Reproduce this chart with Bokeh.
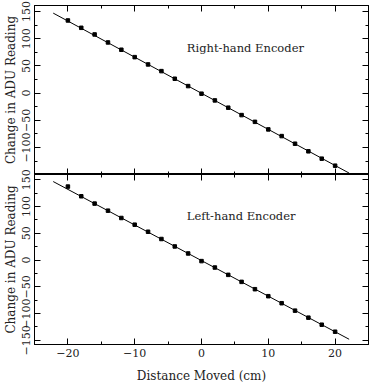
from bokeh.plotting import figure
from bokeh.layouts import column
from bokeh.models import (LinearAxis, SingleIntervalTicker, Range1d, Label,
                          CustomLabelingPolicy)
from bokeh.embed import file_html
from bokeh.resources import INLINE

# ---- data ----
distance = [-20, -18, -16, -14, -12, -10, -8, -6, -4, -2, 0,
            2, 4, 6, 8, 10, 12, 14, 16, 18, 20]
right_change = [133.5, 120.0, 107.8, 93.1, 79.7, 66.1, 52.7, 40.4, 26.4, 12.9, -1.1,
                -13.4, -26.8, -40.4, -52.8, -66.7, -79.0, -93.0, -107.0, -120.5, -133.4]
left_change = [137.4, 119.3, 105.6, 92.4, 78.7, 66.2, 53.0, 39.4, 25.5, 12.4, -1.9,
               -13.9, -27.6, -40.7, -54.4, -67.5, -80.6, -94.5, -107.6, -120.8, -133.9]
fit_x = [-22.2, 22.1]
right_fit_y = [147.0, -147.0]
left_fit_y = [146.8, -148.0]
right_title = "Right-hand Encoder"
left_title = "Left-hand Encoder"
x_label = "Distance Moved (cm)"
y_label = "Change in ADU Reading"

FONT = "DejaVu Serif"
OVERLAP = 12  # px the lower panel's canvas reaches up under the upper one

HIDE_ALL = CustomLabelingPolicy(
    code="for (let i = 0; i < indices.size; i++) { indices.unset(i) }\nreturn indices")


def make_axis(ticker_interval, show_labels, label=None, vertical=False):
    ax = LinearAxis(ticker=SingleIntervalTicker(interval=ticker_interval, num_minor_ticks=2))
    ax.major_tick_in = 6
    ax.major_tick_out = 0
    ax.minor_tick_in = 3
    ax.minor_tick_out = 0
    ax.axis_line_color = "black"
    ax.major_tick_line_color = "black"
    ax.minor_tick_line_color = "black"
    ax.major_label_text_font = FONT
    ax.major_label_text_color = "#222222"
    if show_labels:
        ax.major_label_text_font_size = "11px"
        ax.major_label_standoff = 4
    else:
        ax.major_label_text_font_size = "0px"
        ax.major_label_standoff = 0
        ax.major_label_policy = HIDE_ALL
    if vertical:
        ax.major_label_orientation = "vertical"
    if label:
        ax.axis_label = label
        ax.axis_label_text_font = FONT
        ax.axis_label_text_font_size = "12px"
        ax.axis_label_text_font_style = "normal"
        ax.axis_label_text_color = "#222222"
        ax.axis_label_standoff = 2
    return ax


def make_panel(height, ylo, yhi, ys, fit_y, title, bottom, top_border, bottom_border):
    p = figure(width=372, height=height,
               x_range=Range1d(-25, 25), y_range=Range1d(ylo, yhi),
               x_axis_type=None, y_axis_type=None,
               output_backend="svg", toolbar_location=None,
               min_border_left=30, min_border_right=4,
               min_border_top=top_border, min_border_bottom=bottom_border)
    p.outline_line_color = "black"
    p.background_fill_color = "white"
    p.add_layout(make_axis(50, True, y_label, vertical=True), "left")
    p.add_layout(make_axis(50, False), "right")
    p.add_layout(make_axis(10, False), "above")
    if bottom:
        xa = make_axis(10, True, x_label)
        xa.axis_label_standoff = 9
        p.add_layout(xa, "below")
    else:
        p.add_layout(make_axis(10, False), "below")
    p.line(fit_x, fit_y, line_color="black", line_width=1)
    p.scatter(distance, ys, marker="square", size=3.5, color="black")
    p.add_layout(Label(x=-2.2, y=82, text=title, text_font=FONT,
                       text_font_size="11.5px", text_color="#222222",
                       text_baseline="middle", text_align="left"))
    return p


p1 = make_panel(174, -149.6, 161, right_change, right_fit_y, right_title,
                False, 5, 0)
p1.border_fill_color = "white"

p2 = make_panel(212 + OVERLAP, -157.8, 160, left_change, left_fit_y, left_title,
                True, OVERLAP, 42)
p2.border_fill_color = None
p2.margin = (-OVERLAP, 0, 0, 0)

layout = column(p1, p2, spacing=0)
layout.background = "white"
open("out.html", "w").write(file_html(layout, INLINE))
